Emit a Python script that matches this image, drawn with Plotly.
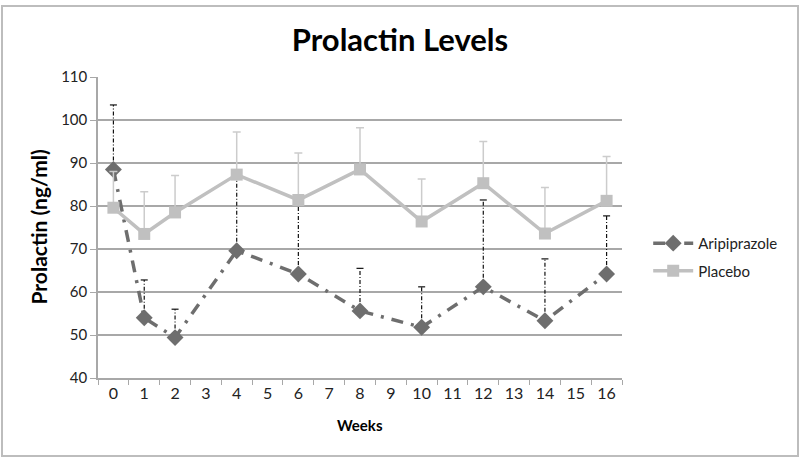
import plotly.graph_objects as go

weeks_all = [str(i) for i in range(17)]
weeks = ["0", "1", "2", "4", "6", "8", "10", "12", "14", "16"]
arip_mean = [88.5, 54.0, 49.4, 69.6, 64.2, 55.6, 51.8, 61.2, 53.3, 64.2]
arip_upper = [103.5, 62.8, 56.0, 87.5, 81.0, 65.5, 61.2, 81.4, 67.7, 77.7]
plac_mean = [79.6, 73.5, 78.5, 87.3, 81.4, 88.5, 76.4, 85.3, 73.6, 81.2]
plac_upper = [88.0, 83.3, 87.1, 97.2, 92.3, 98.2, 86.3, 95.0, 84.3, 91.5]

ARIP = "#6e6e6e"
PLAC = "#c0c0c0"
GRID = "#a8a8a8"
FONT = "Lato, 'Open Sans', sans-serif"

# Aripiprazole upper error bars (dash-dot) built from the data
ex, ey = [], []
for w, m, u in zip(weeks, arip_mean, arip_upper):
    ex += [w, w, None]
    ey += [m, u, None]

fig = go.Figure()
fig.add_trace(go.Scatter(
    x=ex, y=ey, mode="lines", showlegend=False, hoverinfo="skip",
    line=dict(color="#111111", width=1.2, dash="4px,2px,1px,2px"),
))
fig.add_trace(go.Scatter(
    x=weeks, y=arip_upper, mode="markers", showlegend=False, hoverinfo="skip",
    marker=dict(symbol="line-ew", size=5, line=dict(color="#111111", width=1.2)),
))
fig.add_trace(go.Scatter(
    x=weeks, y=arip_mean, name="Aripiprazole", mode="lines+markers",
    legendgroup="a",
    line=dict(color=ARIP, width=3.5, dash="12px,8px,3px,8px"),
    marker=dict(symbol="diamond", size=13, color=ARIP),
))
fig.add_trace(go.Scatter(
    x=weeks, y=plac_mean, name="Placebo", mode="lines+markers",
    legendgroup="b",
    line=dict(color=PLAC, width=3.5),
    marker=dict(symbol="square", size=12, color=PLAC),
    error_y=dict(type="data", symmetric=False,
                 array=[u - m for u, m in zip(plac_upper, plac_mean)],
                 arrayminus=[0] * len(plac_mean),
                 color="#cccccc", thickness=1.5, width=4),
))

fig.update_layout(
    width=800, height=458,
    margin=dict(l=98, r=178, t=77, b=80),
    paper_bgcolor="white", plot_bgcolor="white",
    font=dict(family=FONT, size=15, color="#222222"),
    title=dict(text="<b>Prolactin Levels</b>", x=0.5, xanchor="center",
               y=1 - 40 / 458, yanchor="middle", yref="container",
               font=dict(size=31, color="black", family=FONT)),
    legend=dict(x=1.05, y=0.502, xanchor="left", yanchor="top",
                font=dict(size=15, color="#222222"),
                bgcolor="rgba(0,0,0,0)", itemwidth=40, tracegroupgap=5),
    xaxis=dict(type="category", categoryorder="array", categoryarray=weeks_all,
               tickvals=weeks_all, ticks="outside", tickson="boundaries",
               ticklen=5, tickcolor=GRID, showline=True, linecolor=GRID,
               linewidth=1.5, showgrid=False, range=[-0.5, 16.5],
               tickfont=dict(size=16, color="#222222")),
    yaxis=dict(range=[40, 110], dtick=10, showgrid=True, gridcolor=GRID,
               gridwidth=1.5, ticks="outside", ticklen=6, tickcolor=GRID,
               showline=True, linecolor=GRID, linewidth=1.5, zeroline=False,
               tickfont=dict(size=15, color="#222222")),
    annotations=[
        dict(text="<b>Prolactin (ng/ml)</b>", x=(38 - 98) / 524, y=0.5,
             xref="paper", yref="paper", showarrow=False, textangle=-90,
             xanchor="center", yanchor="middle",
             font=dict(size=21, color="black")),
        dict(text="<b>Weeks</b>", x=0.5, y=-47 / 301, xref="paper", yref="paper",
             showarrow=False, xanchor="center", yanchor="middle",
             font=dict(size=15, color="black")),
    ],
    shapes=[dict(type="rect", xref="paper", yref="paper",
                 x0=(2 - 98) / 524, x1=(798 - 98) / 524,
                 y0=(378 - 456) / 301, y1=(378 - 6) / 301,
                 line=dict(color="#bdbdbd", width=2))],
)

fig.write_html("out.html", config={"displayModeBar": False},
               post_script="document.body.style.margin='0';")
